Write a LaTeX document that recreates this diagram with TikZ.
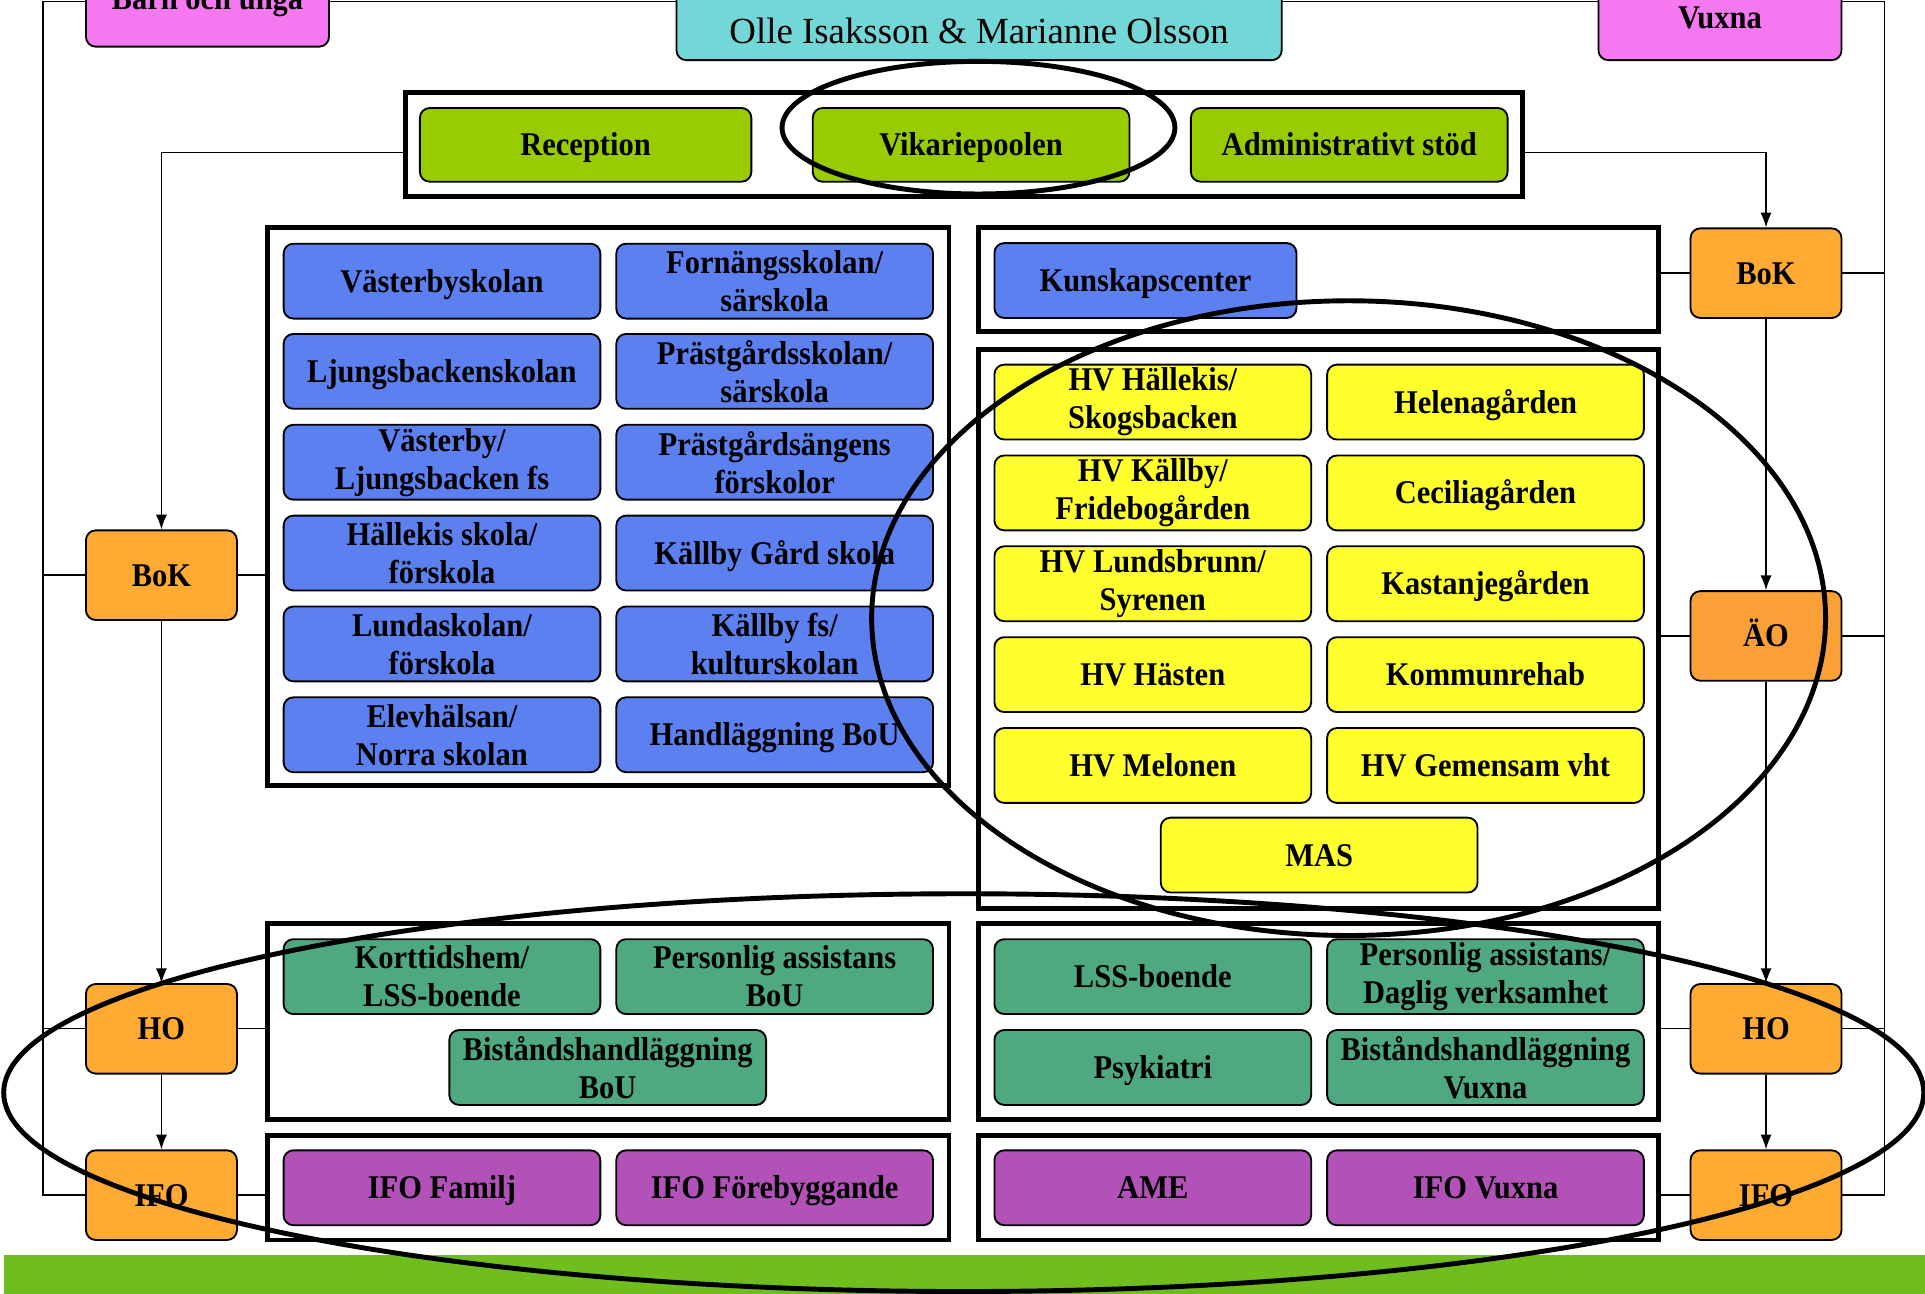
\documentclass[tikz,border=0pt]{standalone}
\usepackage{fontspec}
\setmainfont{Liberation Serif}
\newfontfamily\boxfont{Liberation Serif}[FakeStretch=0.92]
\usetikzlibrary{arrows.meta,calc}
\definecolor{pinkc}{RGB}{245,120,240}
\definecolor{cyanc}{RGB}{115,215,215}
\definecolor{limec}{RGB}{153,204,0}
\definecolor{bluec}{RGB}{92,128,240}
\definecolor{yellowc}{RGB}{255,255,45}
\definecolor{orangec}{RGB}{255,170,50}
\definecolor{orangedk}{RGB}{250,160,55}
\definecolor{tealc}{RGB}{78,168,128}
\definecolor{purplec}{RGB}{178,82,185}
\definecolor{barc}{RGB}{112,190,30}
\begin{document}
\begin{tikzpicture}[x=1pt,y=-1pt,
  bfont/.style={font=\boxfont\bfseries\fontsize{27}{31}\selectfont},
  ubox/.style={draw=black, line width=1.5, rounded corners=8, minimum width=258, minimum height=61,
    inner sep=0, align=center, bfont},
  one/.style={text height=18pt, text depth=0pt},
  obox/.style={ubox, one, fill=orangec, minimum width=123, minimum height=73},
  grpframe/.style={draw=black, line width=4, inner sep=0},
  conn/.style={draw=black, line width=1.1},
  arr/.style={conn, -{Latex[length=12pt,width=9pt]}},
  oval/.style={draw=black, line width=4}
]
\useasboundingbox (0,0) rectangle (1568,1054);

% top title boxes
\draw[line width=1.5, rounded corners=8, fill=pinkc] (70,-40) rectangle (268,38);
\node[bfont] (barn) at (169,1) {Barn och unga};
\draw[line width=1.5, rounded corners=8, fill=cyanc] (551,-40) rectangle (1044,49);
\node[font=\fontsize{30}{36}\selectfont] (olle) at (797.5,25) {Olle Isaksson \& Marianne Olsson};
\draw[line width=1.5, rounded corners=8, fill=pinkc] (1302,-40) rectangle (1500,49);
\node[bfont, one] (vuxna) at (1401,14) {Vuxna};

% outer frame lines
\coordinate (tl) at (35,1);
\coordinate (tr) at (1535,1);
\draw[conn] (tl) -- (70,1);
\draw[conn] (268,1) -- (551,1);
\draw[conn] (1044,1) -- (1302,1);
\draw[conn] (1500,1) -- (tr);

% group frames
\node[grpframe, minimum width=910, minimum height=85] (gframe) at (785,117.5) {};
\node[grpframe, minimum width=555, minimum height=455] (bframe) at (495.5,412.5) {};
\node[grpframe, minimum width=554, minimum height=85] (kframe) at (1074,227.5) {};
\node[grpframe, minimum width=554, minimum height=455] (yframe) at (1074,512.5) {};
\node[grpframe, minimum width=555, minimum height=160] (tframeL) at (495.5,832) {};
\node[grpframe, minimum width=554, minimum height=160] (tframeR) at (1074,832) {};
\node[grpframe, minimum width=555, minimum height=85] (pframeL) at (495.5,967.5) {};
\node[grpframe, minimum width=554, minimum height=85] (pframeR) at (1074,967.5) {};

% top green boxes
\node[ubox, one, fill=limec, minimum width=270, minimum height=60] (rec) at (477,118) {Reception};
\node[ubox, one, fill=limec, minimum height=60] (vik) at (791,118) {Vikariepoolen};
\node[ubox, one, fill=limec, minimum height=60] (adm) at (1099,118) {Administrativt stöd};

% blue boxes
\node[ubox, one, fill=bluec] (b11) at (360,229) {Västerbyskolan};
\node[ubox, fill=bluec] (b12) at (631,229) {Fornängsskolan/\\särskola};
\node[ubox, one, fill=bluec] (b21) at (360,302.5) {Ljungsbackenskolan};
\node[ubox, fill=bluec] (b22) at (631,302.5) {Prästgårdsskolan/\\särskola};
\node[ubox, fill=bluec] (b31) at (360,376.5) {Västerby/\\Ljungsbacken fs};
\node[ubox, fill=bluec] (b32) at (631,376.5) {Prästgårdsängens\\förskolor};
\node[ubox, fill=bluec] (b41) at (360,450.5) {Hällekis skola/\\förskola};
\node[ubox, one, fill=bluec] (b42) at (631,450.5) {Källby Gård skola};
\node[ubox, fill=bluec] (b51) at (360,524.5) {Lundaskolan/\\förskola};
\node[ubox, fill=bluec] (b52) at (631,524.5) {Källby fs/\\kulturskolan};
\node[ubox, fill=bluec] (b61) at (360,598.5) {Elevhälsan/\\Norra skolan};
\node[ubox, one, fill=bluec] (b62) at (631,598.5) {Handläggning BoU};
\node[ubox, one, fill=bluec, minimum width=246] (kun) at (933,228.5) {Kunskapscenter};

% yellow boxes
\node[ubox, fill=yellowc] (y11) at (939,327.5) {HV Hällekis/\\Skogsbacken};
\node[ubox, one, fill=yellowc] (y12) at (1210,327.5) {Helenagården};
\node[ubox, fill=yellowc] (y21) at (939,401.5) {HV Källby/\\Fridebogården};
\node[ubox, one, fill=yellowc] (y22) at (1210,401.5) {Ceciliagården};
\node[ubox, fill=yellowc] (y31) at (939,475.5) {HV Lundsbrunn/\\Syrenen};
\node[ubox, one, fill=yellowc] (y32) at (1210,475.5) {Kastanjegården};
\node[ubox, one, fill=yellowc] (y41) at (939,549.5) {HV Hästen};
\node[ubox, one, fill=yellowc] (y42) at (1210,549.5) {Kommunrehab};
\node[ubox, one, fill=yellowc] (y51) at (939,623.5) {HV Melonen};
\node[ubox, one, fill=yellowc] (y52) at (1210,623.5) {HV Gemensam vht};
\node[ubox, one, fill=yellowc] (mas) at (1074.5,696.5) {MAS};

% teal boxes
\node[ubox, fill=tealc] (t1) at (360,795.5) {Korttidshem/\\LSS-boende};
\node[ubox, fill=tealc] (t2) at (631,795.5) {Personlig assistans\\BoU};
\node[ubox, fill=tealc] (t3) at (495,869.5) {Biståndshandläggning\\BoU};
\node[ubox, one, fill=tealc] (t4) at (939,795.5) {LSS-boende};
\node[ubox, fill=tealc] (t5) at (1210,795.5) {Personlig assistans/\\Daglig verksamhet};
\node[ubox, one, fill=tealc] (t6) at (939,869.5) {Psykiatri};
\node[ubox, fill=tealc] (t7) at (1210,869.5) {Biståndshandläggning\\Vuxna};

% purple boxes
\node[ubox, one, fill=purplec] (p1) at (360,967.5) {IFO Familj};
\node[ubox, one, fill=purplec] (p2) at (631,967.5) {IFO Förebyggande};
\node[ubox, one, fill=purplec] (p3) at (939,967.5) {AME};
\node[ubox, one, fill=purplec] (p4) at (1210,967.5) {IFO Vuxna};

% orange boxes
\node[obox] (bokL) at (131.5,468.5) {BoK};
\node[obox] (hoL) at (131.5,838) {HO};
\node[obox] (ifoL) at (131.5,973.5) {IFO};
\node[obox] (bokR) at (1438.5,222.5) {BoK};
\node[obox, fill=orangedk] (aoR) at (1438.5,518) {ÄO};
\node[obox] (hoR) at (1438.5,838) {HO};
\node[obox] (ifoR) at (1438.5,973.5) {IFO};

% connectors left
\draw[conn] (tl) |- (ifoL.west);
\draw[conn] (tl |- bokL) -- (bokL.west);
\draw[conn] (tl |- hoL) -- (hoL.west);
\draw[conn] (bokL.east) -- (bframe.west |- bokL);
\draw[conn] (hoL.east) -- (tframeL.west |- hoL);
\draw[conn] (ifoL.east) -- (pframeL.west |- ifoL);
\draw[arr] ([yshift=-6.5]gframe.west) -| (bokL.north);
\draw[arr] (bokL.south) -- (hoL.north);
\draw[arr] (hoL.south) -- (ifoL.north);

% connectors right
\draw[conn] (tr) |- (ifoR.east);
\draw[conn] (tr |- bokR) -- (bokR.east);
\draw[conn] (tr |- aoR) -- (aoR.east);
\draw[conn] (tr |- hoR) -- (hoR.east);
\draw[conn] (kframe.east |- bokR) -- (bokR.west);
\draw[conn] (yframe.east |- aoR) -- (aoR.west);
\draw[conn] (tframeR.east |- hoR) -- (hoR.west);
\draw[conn] (pframeR.east |- ifoR) -- (ifoR.west);
\draw[arr] ([yshift=-6.5]gframe.east) -| (bokR.north);
\draw[arr] (bokR.south) -- (aoR.north);
\draw[arr] (aoR.south) -- (hoR.north);
\draw[arr] (hoR.south) -- (ifoR.north);

% bottom bar
\fill[barc] (3,1022) rectangle (1568,1054);

% ellipses
\draw[oval] (797,104) ellipse [x radius=160, y radius=54];
\draw[oval] (1098.5,503.5) ellipse [x radius=388.5, y radius=258.5];
\draw[oval] (785,890) ellipse [x radius=782, y radius=162];
\end{tikzpicture}
\end{document}
